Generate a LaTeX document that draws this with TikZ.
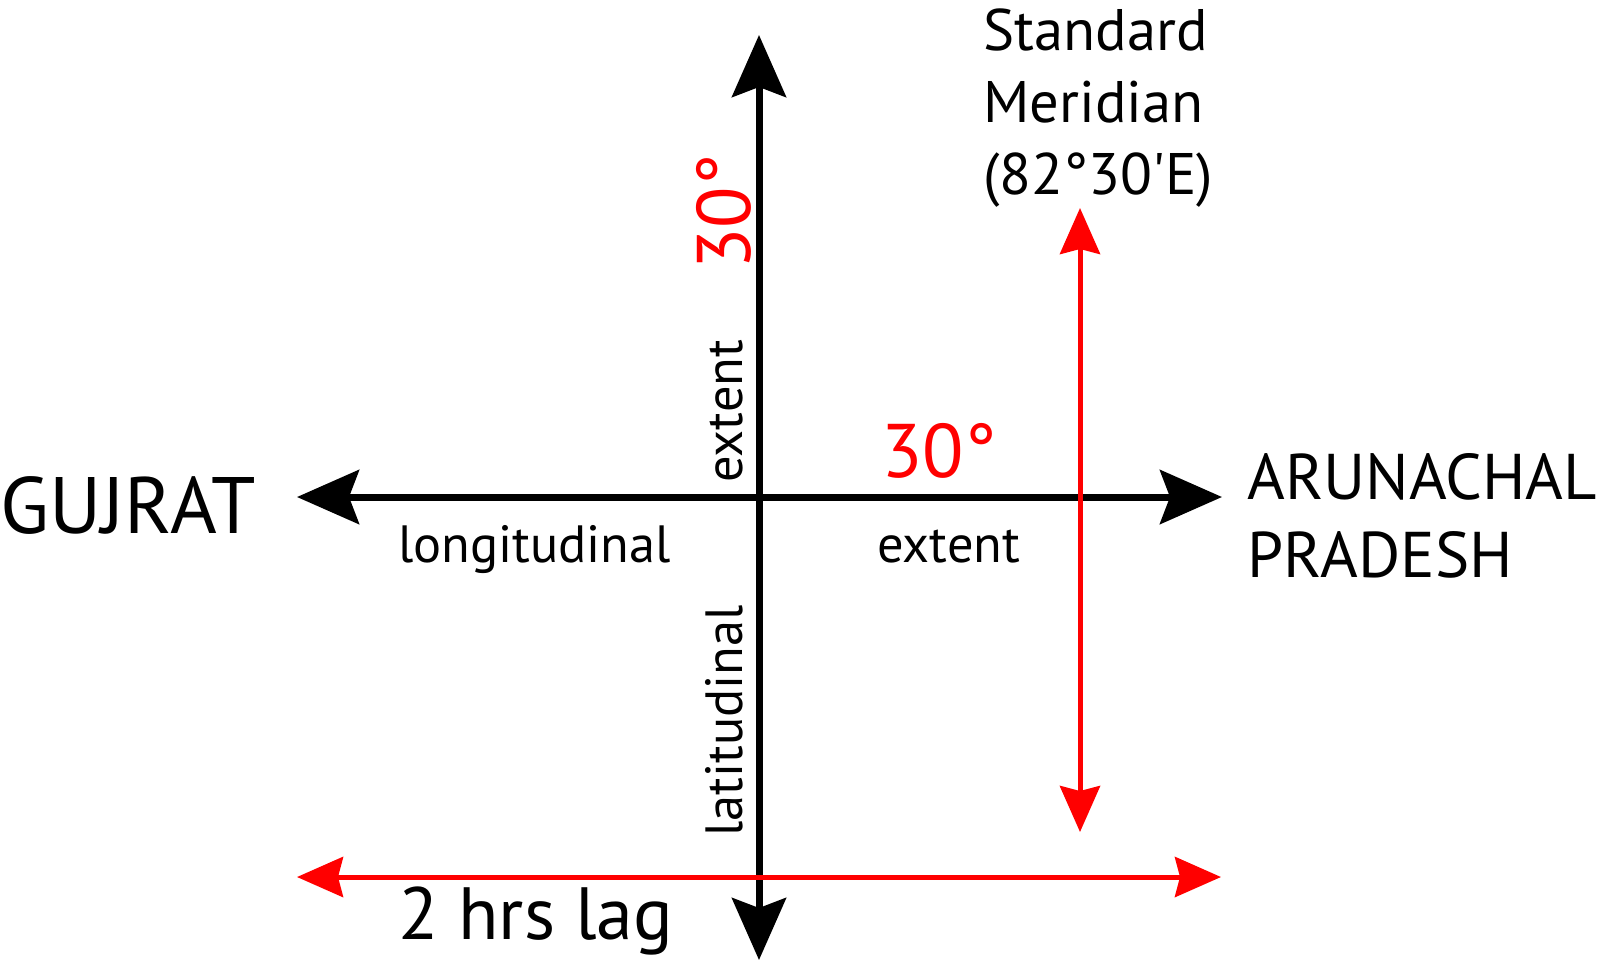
\documentclass[tikz,border=0pt]{standalone}
\usepackage{fontspec}
\setmainfont{PT Sans}
\usetikzlibrary{arrows.meta}

\begin{document}
\begin{tikzpicture}[x=0.5pt,y=-0.5pt,
		axis/.style={line width=3.5pt,{Stealth[length=31pt,width=27pt,inset=5pt]}-{Stealth[length=31pt,width=27pt,inset=5pt]}},
		redaxis/.style={red,line width=2.5pt,{Stealth[length=23pt,width=20pt,inset=2.5pt]}-{Stealth[length=23pt,width=20pt,inset=2.5pt]}},
		lbl/.style={inner sep=0pt,font=\fontsize{26.2}{31}\selectfont},
		deg/.style={inner sep=0pt,red,font=\fontsize{38}{44}\selectfont}]

		\useasboundingbox (0,0) rectangle (1600,966);

		%end points of the axes
		\coordinate (north) at (759,35);
		\coordinate (south) at (759,960);
		\coordinate (west) at (297,497);
		\coordinate (east) at (1222,497);
		\coordinate (lagWest) at (297,877);
		\coordinate (lagEast) at (1221,877);
		\coordinate (meridianTop) at (1080,208);
		\coordinate (meridianBottom) at (1080,832);

		\draw[axis] (north) -- (south);
		\draw[axis] (west) -- (east);
		\draw[redaxis] (lagWest) -- (lagEast);
		\draw[redaxis] (meridianTop) -- (meridianBottom);

		\node[inner sep=0pt,font=\fontsize{40}{46}\selectfont,anchor=base west] (gujrat) at (0,533) {GUJRAT};
		\node[inner sep=0pt,font=\fontsize{32.3}{39}\selectfont,align=left,anchor=north west] (arunachal) at (1247,453) {ARUNACHAL\\PRADESH};
		\node[inner sep=0pt,font=\fontsize{29.3}{36}\selectfont,align=left,anchor=north west] (meridian) at (983,8) {Standard\\Meridian\\(82°30\textquotesingle E)};

		\node[deg,anchor=base west] (lonDeg) at (881,477) {30°};
		\node[deg,rotate=90,anchor=base west] (latDeg) at (750,270) {30°};

		\node[lbl,anchor=base west] (longitudinal) at (398,562) {longitudinal};
		\node[lbl,anchor=base west] (lonExtent) at (877,562) {extent};
		\node[lbl,rotate=90,anchor=base west] (latExtent) at (742,483) {extent};
		\node[lbl,rotate=90,anchor=base west] (latitudinal) at (742,837) {latitudinal};
		%\node[lbl] (lagText) {};
		\node[inner sep=0pt,font=\fontsize{37}{42}\selectfont,anchor=base west] (lag) at (398,939) {2 hrs lag};

	\end{tikzpicture}
\end{document}
